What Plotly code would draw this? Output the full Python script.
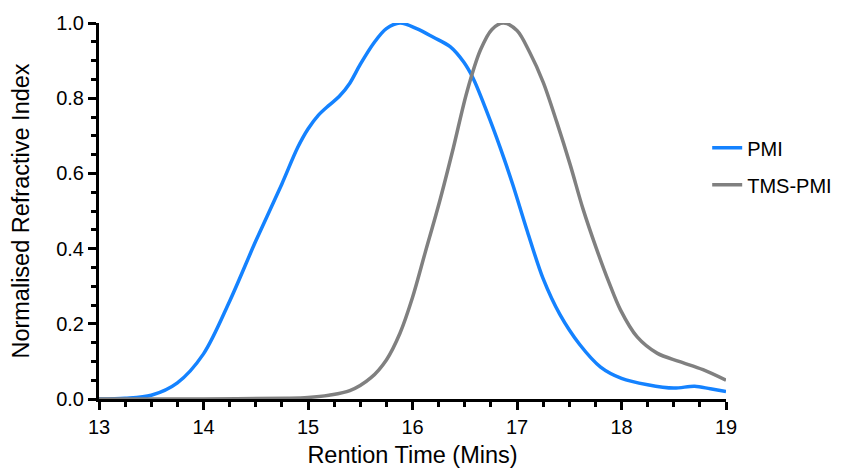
import plotly.graph_objects as go

# Retention time (min) and normalised RI response for each sample
pmi_time = [13.0, 13.25, 13.5, 13.75, 14.0, 14.25, 14.5, 14.75, 14.9, 15.0,
            15.1, 15.2, 15.3, 15.4, 15.5, 15.63, 15.75, 15.88, 16.04, 16.2, 16.36,
            16.49, 16.58, 16.71, 16.84, 16.96, 17.1, 17.25, 17.41, 17.6, 17.8,
            18.0, 18.25, 18.5, 18.7, 18.85, 19.0]
pmi_ri = [0.0, 0.002, 0.01, 0.043, 0.12, 0.26, 0.42, 0.572, 0.668, 0.718,
          0.755, 0.781, 0.805, 0.84, 0.89, 0.947, 0.985, 1.0, 0.985, 0.962, 0.937,
          0.896, 0.853, 0.765, 0.668, 0.57, 0.445, 0.32, 0.225, 0.145, 0.085,
          0.055, 0.038, 0.029, 0.034, 0.027, 0.02]

tms_time = [13.0, 14.0, 14.8, 15.0, 15.2, 15.4, 15.6, 15.75, 15.88, 16.0,
            16.12, 16.26, 16.39, 16.52, 16.65, 16.76, 16.87, 17.0, 17.12, 17.25,
            17.38, 17.51, 17.63, 17.76, 17.88, 17.99, 18.15, 18.34, 18.55, 18.78, 19.0]
tms_ri = [0.0, 0.0, 0.002, 0.004, 0.01, 0.022, 0.056, 0.104, 0.175, 0.27,
          0.388, 0.526, 0.667, 0.816, 0.928, 0.983, 1.0, 0.98, 0.923, 0.843,
          0.737, 0.622, 0.507, 0.40, 0.31, 0.237, 0.165, 0.122, 0.1, 0.078, 0.05]

x_ticks = [13, 14, 15, 16, 17, 18, 19]
y_ticks = [0.0, 0.2, 0.4, 0.6, 0.8, 1.0]

font = "Liberation Sans, Arial, sans-serif"

fig = go.Figure()
fig.add_trace(go.Scatter(x=pmi_time, y=pmi_ri, mode="lines", name="PMI",
                         legendgroup="a",
                         line=dict(color="#1482FF", width=3.5, shape="spline", smoothing=0.9),
                         cliponaxis=False))
fig.add_trace(go.Scatter(x=tms_time, y=tms_ri, mode="lines", name="TMS-PMI",
                         legendgroup="b",
                         line=dict(color="#808080", width=3.5, shape="spline", smoothing=0.9),
                         cliponaxis=False))

axis_common = dict(showline=True, linecolor="black", linewidth=3, ticks="outside",
                   ticklen=8, tickwidth=3, tickcolor="black", showgrid=False,
                   zeroline=False, automargin=False,
                   tickfont=dict(size=20, color="black", family=font))

fig.update_xaxes(range=[13, 19], tickvals=x_ticks,
                 minor=dict(dtick=0.25, ticks="outside", ticklen=5, tickwidth=3, tickcolor="black"),
                 title=dict(text="Rention Time (Mins)", font=dict(size=23.5, color="black", family=font),
                            standoff=10),
                 **axis_common)
fig.update_yaxes(range=[0, 1.0], tickvals=y_ticks, tickformat=".1f",
                 minor=dict(dtick=0.05, ticks="outside", ticklen=5, tickwidth=3, tickcolor="black"),
                 title=dict(text="Normalised Refractive Index", font=dict(size=23.5, color="black", family=font),
                            standoff=20),
                 **axis_common)

fig.update_layout(
    width=844, height=468,
    margin=dict(l=99, r=118, t=23, b=69, autoexpand=False),
    plot_bgcolor="white", paper_bgcolor="white",
    font=dict(family=font, color="black"),
    legend=dict(x=0.97, y=0.72, xanchor="left", yanchor="top",
                font=dict(size=20, color="black", family=font),
                traceorder="grouped", tracegroupgap=8,
                bgcolor="rgba(0,0,0,0)"),
)

fig.write_html("out.html")
